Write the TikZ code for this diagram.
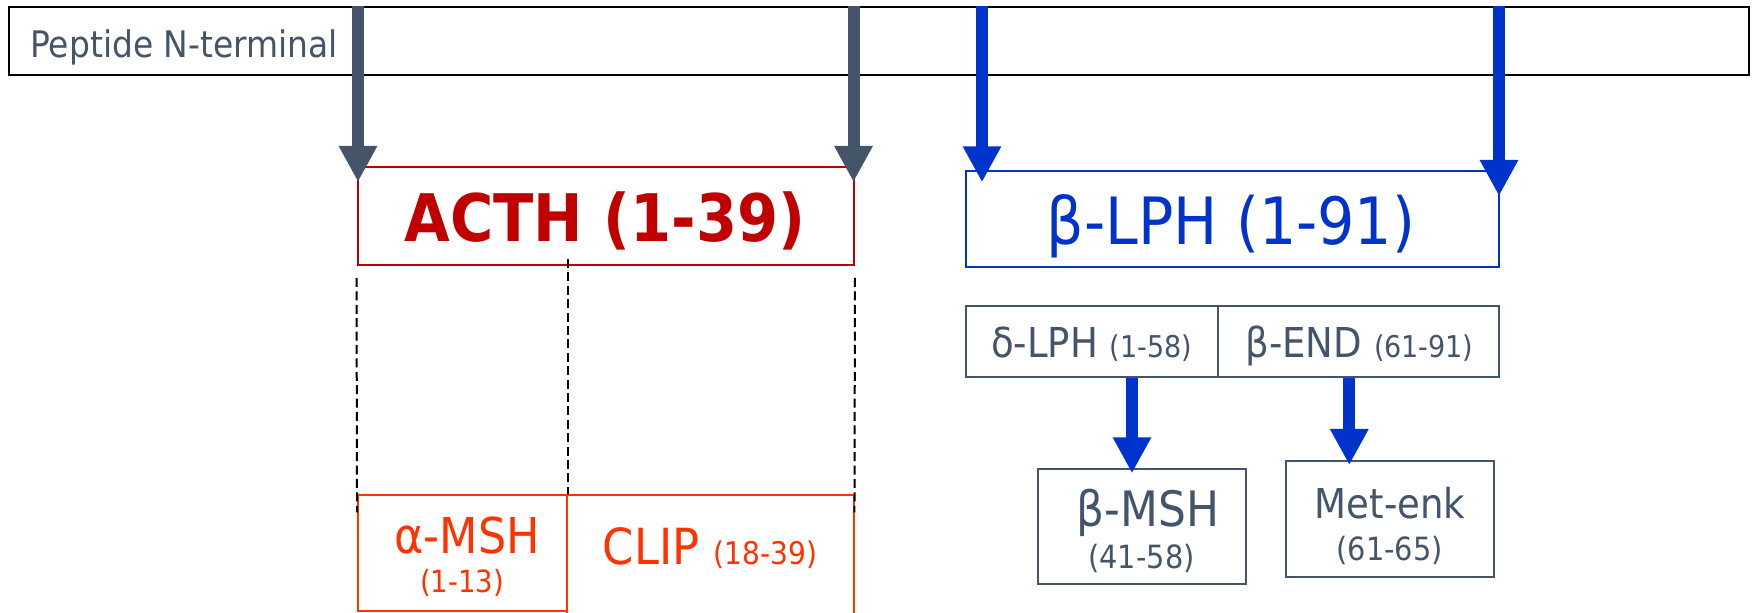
\documentclass[tikz,border=0pt]{standalone}
\usepackage{fontspec}
\setmainfont{DejaVu Sans Condensed}
\usetikzlibrary{arrows.meta}

\definecolor{slate}{HTML}{44546A}
\definecolor{acthred}{HTML}{C00000}
\definecolor{pomcblue}{HTML}{0033CC}
\definecolor{cliporange}{HTML}{FF3300}

\newcommand\fsz[1]{\fontsize{#1}{#1}\selectfont}

\begin{document}
\begin{tikzpicture}[x=0.5pt,y=-0.5pt,
  box/.style={draw, rectangle, inner sep=0pt, line width=1pt},
  lbl/.style={anchor=base, inner sep=0pt},
  cutarrow/.style={line width=6pt, -{Triangle[length=18pt,width=18pt]}},
  guide/.style={draw=black, line width=1pt, dash pattern=on 4.5pt off 2.2pt}]

\useasboundingbox (0,0) rectangle (1754,613);

% precursor bar
\node[box, draw=black, minimum width=870pt, minimum height=34pt] (bar) at (879,41) {};
\node[anchor=base west, inner sep=0pt, text=slate] (barlbl) at (30,57.3) {\fsz{18.3pt}Peptide N-terminal};

% ACTH and its fragments
\node[box, draw=acthred, minimum width=248.25pt, minimum height=49.15pt] (acth) at (605.75,215.85) {};
\node[lbl, text=acthred] (acthlbl) at (605,241.7) {\fsz{32.8pt}\bfseries ACTH (1-39)};

\begin{scope}
  \clip (0,0) rectangle (1754,613);
  \node[box, draw=cliporange, minimum width=104.5pt, minimum height=57.5pt] (amsh) at (462.5,553) {};
  \node[box, draw=cliporange, minimum width=143.25pt, minimum height=82.25pt] (clip) at (710.25,577.75) {};
\end{scope}
\node[lbl, text=cliporange] (amshlbl) at (467,553) {\fsz{24.7pt}α-MSH};
\node[lbl, text=cliporange] (amshnum) at (462,593) {\fsz{15.3pt}(1-13)};
\node[lbl, text=cliporange] (cliplbl) at (710,565) {\fsz{24.9pt}CLIP \fsz{15.6pt}(18-39)};

% beta-LPH and its fragments
\node[box, draw=pomcblue, minimum width=266.75pt, minimum height=48.25pt] (lph) at (1232.25,219.25) {};
\node[lbl, text=pomcblue] (lphlbl) at (1231,244.3) {\fsz{32.6pt}β-LPH (1-91)};

\node[box, draw=slate, minimum width=126.25pt, minimum height=35.5pt] (dlph) at (1091.75,341.5) {};
\node[box, draw=slate, minimum width=140.5pt, minimum height=35.5pt] (bend) at (1358.5,341.5) {};
\node[lbl, text=slate] (dlphlbl) at (1091.5,358) {\fsz{20.6pt}δ-LPH \fsz{15pt}(1-58)};
\node[lbl, text=slate] (bendlbl) at (1359.5,358) {\fsz{20.6pt}β-END \fsz{15pt}(61-91)};

\node[box, draw=slate, minimum width=103.75pt, minimum height=57.5pt] (bmsh) at (1141.75,527) {};
\node[lbl, text=slate] (bmshlbl) at (1148,527) {\fsz{24.4pt}β-MSH};
\node[lbl, text=slate] (bmshnum) at (1141.5,568) {\fsz{16pt}(41-58)};

\node[box, draw=slate, minimum width=104pt, minimum height=58pt] (menk) at (1389.5,519) {};
\node[lbl, text=slate] (menklbl) at (1390,519) {\fsz{20.6pt}Met-enk};
\node[lbl, text=slate] (menknum) at (1389.5,560.7) {\fsz{16pt}(61-65)};

% guide lines from ACTH down to its fragments
\draw[guide, shorten <=6pt, shorten >=-9pt] (acth.south west) -- (amsh.north west);
\draw[guide, shorten <=6pt, shorten >=-9pt] (acth.south east) -- (clip.north east);
\draw[guide, shorten <=-3.5pt] (acth.south -| amsh.north east) -- (amsh.north east);

% cleavage arrows
\coordinate (t1) at (358,182);
\coordinate (t2) at (853.5,182);
\coordinate (t3) at (982,182.3);
\coordinate (t4) at (1499,196);
\coordinate (t5) at (1132,473.3);
\coordinate (t6) at (1349.3,465);

\draw[cutarrow, slate] (t1 |- bar.north) -- (t1);
\draw[cutarrow, slate] (t2 |- bar.north) -- (t2);
\draw[cutarrow, pomcblue] (t3 |- bar.north) -- (t3);
\draw[cutarrow, pomcblue] (t4 |- bar.north) -- (t4);
\draw[cutarrow, pomcblue, shorten <=-4pt] (t5 |- dlph.south) ++(0,8) -- (t5);
\draw[cutarrow, pomcblue] (t6 |- bend.south) -- (t6);

\end{tikzpicture}
\end{document}
